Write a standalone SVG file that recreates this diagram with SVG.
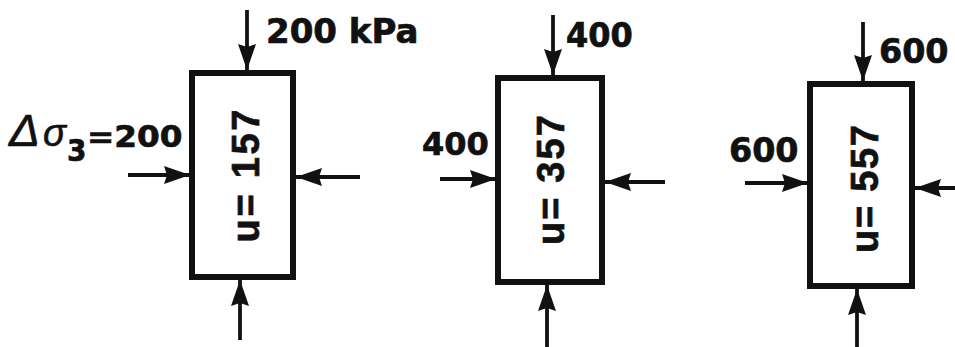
<svg xmlns="http://www.w3.org/2000/svg" width="955" height="347" viewBox="0 0 955 347">
<style>
.box{fill:none;stroke:#111;stroke-width:6}
.arr{fill:none;stroke:#111;stroke-width:3.8}
.lbl{font-family:"DejaVu Sans","Liberation Sans",sans-serif;font-weight:bold;fill:#111;stroke:#111;stroke-width:0.7}
.u{font-family:"Liberation Sans",Arial,sans-serif;font-weight:bold;fill:#111;font-size:38px;stroke:#111;stroke-width:0.7}
.gr{font-family:"Liberation Sans",Arial,sans-serif;font-style:italic;fill:#111;stroke:#111;stroke-width:0.6}
</style>
<defs>
<marker id="ah" markerUnits="userSpaceOnUse" markerWidth="28" markerHeight="18" refX="26" refY="9" orient="auto">
<path d="M0,0 L26,9 L0,18 L3,9 Z" fill="#111"/>
</marker>
</defs>
<rect width="955" height="347" fill="#fff"/>

<g id="connectors">
<path class="arr" d="M247,10 V70" marker-end="url(#ah)"/>
<path class="arr" d="M128,175 H190" marker-end="url(#ah)"/>
<path class="arr" d="M360,177 H296" marker-end="url(#ah)"/>
<path class="arr" d="M240,340 V280" marker-end="url(#ah)"/>
<path class="arr" d="M553,15 V75" marker-end="url(#ah)"/>
<path class="arr" d="M440,179 H496" marker-end="url(#ah)"/>
<path class="arr" d="M665,182 H605" marker-end="url(#ah)"/>
<path class="arr" d="M547,347 V285" marker-end="url(#ah)"/>
<path class="arr" d="M863,22 V81" marker-end="url(#ah)"/>
<path class="arr" d="M745,183 H808" marker-end="url(#ah)"/>
<path class="arr" d="M958,188 H915" marker-end="url(#ah)"/>
<path class="arr" d="M857,347 V289" marker-end="url(#ah)"/>
</g>

<g id="node1">
<rect class="box" x="192" y="73" width="101" height="204"/>
<text class="u" transform="translate(259,176) rotate(-90)" text-anchor="middle" textLength="133">u= 157</text>
</g>
<g id="node2">
<rect class="box" x="498" y="78" width="104" height="204"/>
<text class="u" transform="translate(564,180) rotate(-90)" text-anchor="middle" textLength="130">u= 357</text>
</g>
<g id="node3">
<rect class="box" x="810" y="84" width="102" height="202"/>
<text class="u" transform="translate(878,189) rotate(-90)" text-anchor="middle" textLength="128">u= 557</text>
</g>

<g id="labels">
<text class="lbl" transform="translate(266,43) scale(1.0,1)" font-size="34">200 kPa</text>
<text class="gr" transform="translate(9,146) scale(1.05,1)" font-size="44">Δ</text>
<text class="gr" transform="translate(43,146) scale(1.0,1)" font-size="38">σ</text>
<text class="lbl" transform="translate(67,161) scale(0.9,1)" font-size="31">3</text>
<text class="lbl" transform="translate(87,147) scale(1.07,1)" font-size="30.5">=200</text>
<text class="lbl" transform="translate(566,47) scale(0.97,1)" font-size="33">400</text>
<text class="lbl" transform="translate(422,155) scale(1.0,1)" font-size="32">400</text>
<text class="lbl" transform="translate(879,63) scale(0.98,1)" font-size="34">600</text>
<text class="lbl" transform="translate(729,162) scale(0.98,1)" font-size="34">600</text>
</g>
</svg>
